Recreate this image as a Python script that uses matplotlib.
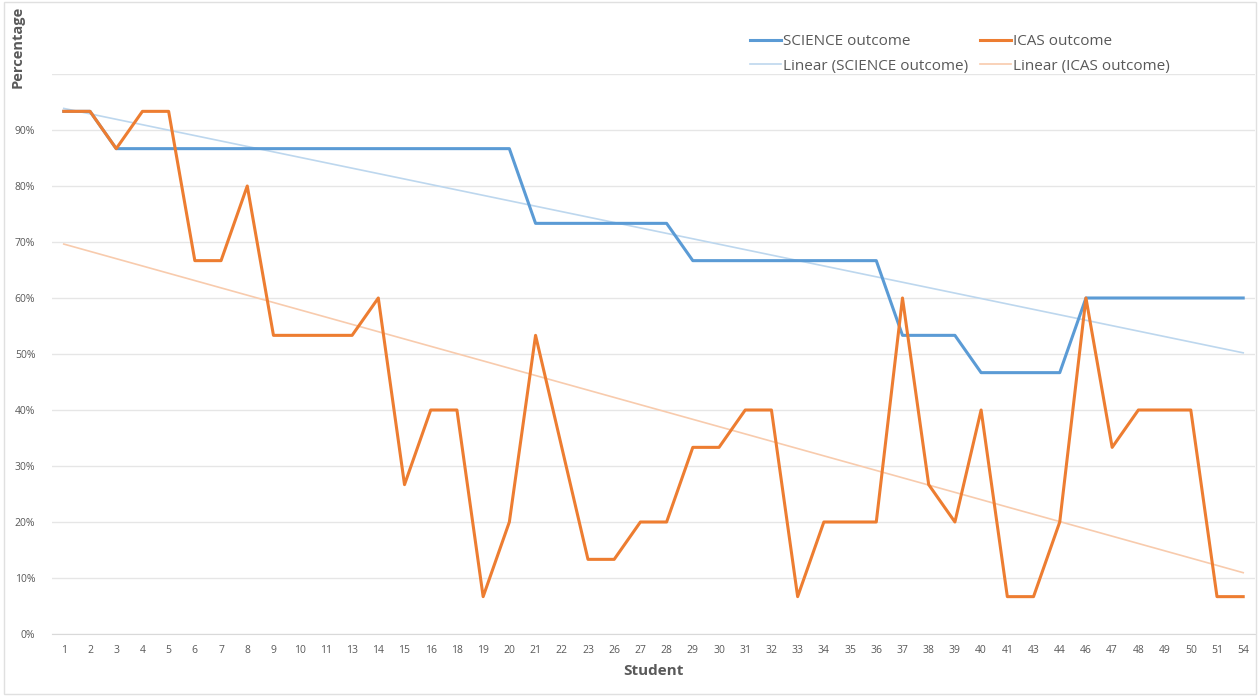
import matplotlib
matplotlib.use("Agg")
import matplotlib.pyplot as plt
import numpy as np

students = ["1","2","3","4","5","6","7","8","9","10","11","13","14","15","16","18","19","20","21","22","23",
            "26","27","28","29","30","31","32","33","34","35","36","37","38","39","40","41","43","44","46",
            "47","48","49","50","51","54"]

science = [93.33,93.33,86.67,86.67,86.67,86.67,86.67,86.67,86.67,86.67,86.67,86.67,86.67,86.67,86.67,86.67,86.67,86.67,
           73.33,73.33,73.33,73.33,73.33,73.33,
           66.67,66.67,66.67,66.67,66.67,66.67,66.67,66.67,
           53.33,53.33,53.33,46.67,46.67,46.67,46.67,
           60,60,60,60,60,60,60]

icas = [93.33,93.33,86.67,93.33,93.33,66.67,66.67,80,53.33,53.33,53.33,53.33,60,26.67,40,40,6.67,20,
        53.33,33.33,13.33,13.33,20,20,33.33,33.33,40,40,6.67,20,20,20,
        60,26.67,20,40,6.67,6.67,20,60,33.33,40,40,40,6.67,6.67]

yticks = [0,10,20,30,40,50,60,70,80,90]

plt.rcParams['font.family'] = ['Open Sans', 'DejaVu Sans']
txt = '#595959'

fig = plt.figure(figsize=(12.58, 6.96), dpi=100)
ax = fig.add_axes([52/1258, (696-634)/696, (1255-52)/1258, (634-74)/696])

x = np.arange(len(students))
sci = np.array(science)/100
ic = np.array(icas)/100

ps = np.polyfit(x, sci, 1)
pi = np.polyfit(x, ic, 1)

l3, = ax.plot(x, np.polyval(ps, x), color='#BDD7EE', lw=1.2, zorder=2)
l4, = ax.plot(x, np.polyval(pi, x), color='#F8CBAD', lw=1.2, zorder=2)
l1, = ax.plot(x, sci, color='#5B9BD5', lw=2.2, zorder=3)
l2, = ax.plot(x, ic, color='#ED7D31', lw=2.2, zorder=4)

ax.set_xlim(-0.45, len(students)-0.55)
ax.set_ylim(0, 1.0)
ax.set_yticks([v/100 for v in yticks] + [1.0])
ax.set_yticklabels([f"{v}%" for v in yticks] + [""])
ax.set_xticks(x)
ax.set_xticklabels(students)
ax.grid(axis='y', color='#E6E6E6', lw=1)
ax.set_axisbelow(True)
for s in ['top','right','left']:
    ax.spines[s].set_visible(False)
ax.spines['bottom'].set_color('#D9D9D9')
ax.tick_params(axis='both', length=0, labelsize=7.5, colors=txt, pad=8)
ax.tick_params(axis='y', pad=12)
ax.set_xlabel("Student", fontsize=11, fontweight='bold', color=txt, labelpad=6)
fig.text(18/1258, 1-47/696, "Percentage", rotation=90, ha='center', va='center',
         fontsize=10.5, fontweight='bold', color=txt)

fig.legend([l1, l3, l2, l4],
           ["SCIENCE outcome", "Linear (SCIENCE outcome)", "ICAS outcome", "Linear (ICAS outcome)"],
           ncol=2, frameon=False, loc='center', bbox_to_anchor=(960/1258, 1-54/696),
           fontsize=11, labelcolor=txt, handlelength=2.0, handletextpad=0.15, columnspacing=0.8,
           labelspacing=0.6)

fig.patches.append(plt.Rectangle((4/1258, 2/696), 1252/1258, 692/696, transform=fig.transFigure,
                                 fill=False, edgecolor='#E0E0E0', lw=1))

fig.savefig("out.png", dpi=100, facecolor='white')
